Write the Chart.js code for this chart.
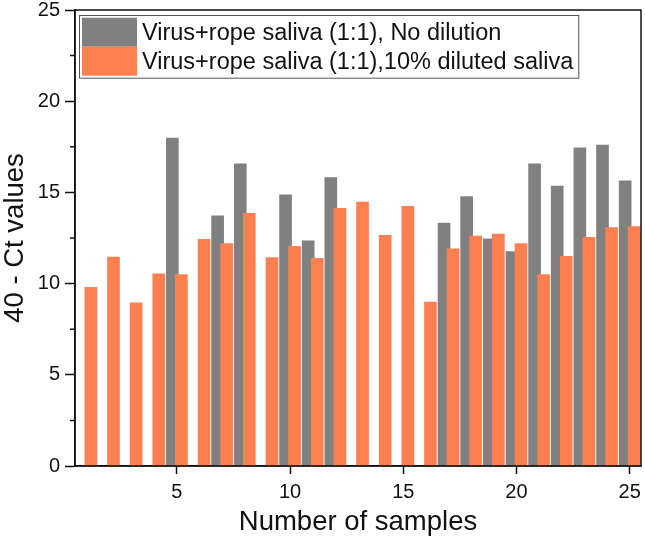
<!DOCTYPE html>
<html lang="en">
<head>
<meta charset="UTF-8">
<title>40 - Ct values per sample</title>
<style>
  body { margin: 0; background: #fff; }
  #wrap { width: 645px; height: 541px; }
</style>
</head>
<body>
<div id="wrap"><canvas id="ctChart" width="645" height="541"></canvas></div>
<script src="https://cdn.jsdelivr.net/npm/chart.js"></script>
<script>
// sample numbers (x axis)
const samples = [1, 2, 3, 4, 5, 6, 7, 8, 9, 10, 11, 12, 13, 14, 15, 16, 17, 18, 19, 20, 21, 22, 23, 24, 25];
// Virus+rope saliva (1:1), no dilution -- null where there is no bar
const noDilution = [null, null, null, null, 17.98, null, 13.72, 16.56, null, 14.86, 12.35, 15.81, null,
                    null, null, null, 13.32, 14.77, 12.46, 11.75, 16.56, 15.35, 17.45, 17.60, 15.63];
// Virus+rope saliva (1:1), 10% diluted saliva
const diluted10 = [9.80, 11.46, 8.94, 10.53, 10.49, 12.43, 12.19, 13.85, 11.42, 12.04, 11.39, 14.13, 14.47,
                   12.65, 14.24, 8.99, 11.90, 12.61, 12.72, 12.19, 10.49, 11.50, 12.54, 13.07, 13.12];
const xTicks = [5, 10, 15, 20, 25];
const yTicks = [0, 5, 10, 15, 20, 25];
const yMinorTicks = [2.5, 7.5, 12.5, 17.5, 22.5];
const legendLabels = ['Virus+rope saliva (1:1), No dilution', 'Virus+rope saliva (1:1),10% diluted saliva'];

const FONT = '"Liberation Sans", Arial, sans-serif';
const INK = '#111';
const GREY = '#808080';
const CORAL = '#ff7f50';
const X_MIN = 0.5, X_MAX = 25.5;
// the two series sit on hidden x axes shifted by this much, so each pair overlaps
const SHIFT = 0.2;

function points(vals) {
    return samples.map((s, i) => ({ x: s, y: vals[i] })).filter(p => p.y !== null);
}

// hidden x axis with a fixed range
function shiftedAxis(d) {
    return {
        type: 'linear', display: false, offset: false, bounds: 'data',
        min: X_MIN + d, max: X_MAX + d,
        afterBuildTicks: s => { s.min = X_MIN + d; s.max = X_MAX + d; }
    };
}

// box frame, minor y ticks and the boxed legend inside the plot
const framePlugin = {
    id: 'frame',
    afterDatasetsDraw(chart) {
        const ctx = chart.ctx;
        const a = chart.chartArea;
        const y = chart.scales.y;
        ctx.save();
        ctx.strokeStyle = INK;
        ctx.lineWidth = 1.5;
        ctx.strokeRect(a.left, a.top, a.right - a.left, a.bottom - a.top);

        ctx.beginPath();
        yMinorTicks.forEach(v => {
            const py = y.getPixelForValue(v);
            ctx.moveTo(a.left - 5, py);
            ctx.lineTo(a.left, py);
        });
        ctx.stroke();

        // legend
        const colors = [GREY, CORAL];
        ctx.font = '23.5px ' + FONT;
        const textW = Math.max(...legendLabels.map(t => ctx.measureText(t).width));
        const bx = a.left + 4, by = a.top + 5;
        const sw = 55, sh = 29;
        const bw = 3 + sw + 5 + textW + 5;
        const bh = 2.7 + sh * 2 + 2;
        ctx.fillStyle = '#fff';
        ctx.fillRect(bx, by, bw, bh);
        ctx.strokeStyle = '#555';
        ctx.lineWidth = 1;
        ctx.strokeRect(bx + 0.5, by + 0.5, bw, bh);
        legendLabels.forEach((t, i) => {
            const sy = by + 2.7 + i * sh;
            ctx.fillStyle = colors[i];
            ctx.fillRect(bx + 3, sy, sw, sh);
            ctx.fillStyle = INK;
            ctx.textBaseline = 'middle';
            ctx.textAlign = 'left';
            ctx.fillText(t, bx + 3 + sw + 5, sy + sh / 2 + 1);
        });
        ctx.restore();
    }
};

new Chart(document.getElementById('ctChart'), {
    type: 'bar',
    data: {
        datasets: [{
            label: legendLabels[0],
            data: points(noDilution),
            xAxisID: 'xg',
            backgroundColor: GREY,
            barThickness: 12,
            grouped: false,
            order: 1
        }, {
            label: legendLabels[1],
            data: points(diluted10),
            xAxisID: 'xo',
            backgroundColor: CORAL,
            barThickness: 12,
            grouped: false,
            order: 0
        }]
    },
    options: {
        responsive: false,
        animation: false,
        layout: { padding: { top: 10, right: 4, left: 0, bottom: 0 } },
        plugins: { legend: { display: false }, tooltip: { enabled: false } },
        scales: {
            x: {
                type: 'linear', position: 'bottom', min: X_MIN, max: X_MAX, offset: false,
                afterBuildTicks: s => {
                    s.min = X_MIN; s.max = X_MAX;
                    s.ticks = xTicks.map(v => ({ value: v }));
                },
                afterFit: s => { s.height = 75; s.paddingLeft = 0; s.paddingRight = 0; },
                grid: { offset: false, drawOnChartArea: false, tickLength: 8, tickColor: INK, tickWidth: 1.5 },
                border: { color: INK, width: 1.5 },
                ticks: { font: { family: FONT, size: 20 }, color: INK, padding: 6, maxRotation: 0 },
                title: {
                    display: true, text: 'Number of samples', color: INK,
                    font: { family: FONT, size: 27.5 }, padding: { top: 0, bottom: 2 }
                }
            },
            xg: shiftedAxis(SHIFT),
            xo: shiftedAxis(-SHIFT),
            y: {
                min: 0, max: 25,
                afterBuildTicks: s => { s.ticks = yTicks.map(v => ({ value: v })); },
                afterFit: s => { s.width = 75; s.paddingTop = 0; s.paddingBottom = 0; },
                grid: { drawOnChartArea: false, tickLength: 10, tickColor: INK, tickWidth: 1.5 },
                border: { color: INK, width: 1.5 },
                ticks: { font: { family: FONT, size: 20 }, color: INK, padding: 5 },
                title: {
                    display: true, text: '40 - Ct values', color: INK,
                    font: { family: FONT, size: 27.5, lineHeight: 1.1 }, padding: { top: 0, bottom: 0 }
                }
            }
        }
    },
    plugins: [framePlugin]
});
</script>
</body>
</html>
